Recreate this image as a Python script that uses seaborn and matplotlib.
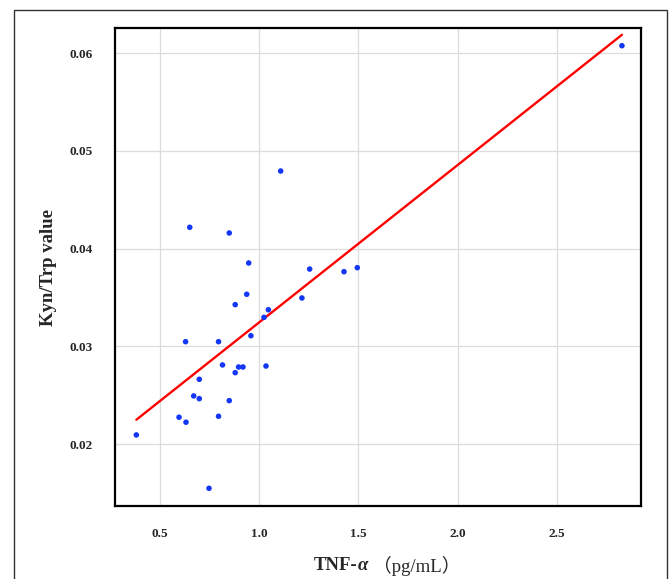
import numpy as np
import pandas as pd
import matplotlib
matplotlib.use("Agg")
import matplotlib.pyplot as plt
import seaborn as sns
from matplotlib.patches import Rectangle

tnf = [1.108, 0.650, 0.849, 0.947, 1.254, 1.427, 1.494, 0.937, 1.215, 0.879,
       1.046, 1.024, 0.958, 0.629, 0.795, 0.815, 0.896, 0.918, 1.034, 0.879,
       0.698, 0.670, 0.698, 0.849, 0.596, 0.795, 0.631, 0.381, 0.747, 2.827]
kyn_trp = [0.04793, 0.04217, 0.04159, 0.03852, 0.03790, 0.03763, 0.03804, 0.03532, 0.03494, 0.03426,
           0.03374, 0.03296, 0.03108, 0.03047, 0.03047, 0.02809, 0.02788, 0.02788, 0.02798, 0.02730,
           0.02662, 0.02492, 0.02464, 0.02444, 0.02274, 0.02284, 0.02223, 0.02093, 0.01547, 0.06075]
x_ticks = [0.5, 1.0, 1.5, 2.0, 2.5]
y_ticks = [0.02, 0.03, 0.04, 0.05, 0.06]

df = pd.DataFrame({"tnf": tnf, "kyn": kyn_trp})

sns.set_style("white")
plt.rcParams['font.family'] = ['Liberation Serif', 'Noto Sans CJK SC', 'DejaVu Sans']

fig = plt.figure(figsize=(6.7, 5.79), dpi=100)
ax = fig.add_axes([0.1721, 0.1261, 0.7846, 0.825])

fig.patches.append(Rectangle((14 / 670, -0.05), (667 - 14) / 670, 1 - 10 / 579 + 0.05,
                             transform=fig.transFigure, fill=False,
                             edgecolor="#333333", linewidth=1.0, zorder=0))

sns.regplot(data=df, x="tnf", y="kyn", ax=ax, ci=None,
            scatter_kws=dict(s=16, color="#1437f5", edgecolor="none", alpha=1, zorder=3),
            line_kws=dict(color="#ff0000", linewidth=1.7, zorder=2))

ax.set_xlim(0.275, 2.923)
ax.set_ylim(0.01366, 0.06253)
ax.set_xticks(x_ticks)
ax.set_yticks(y_ticks)
ax.set_xticklabels([f"{v:.1f}" for v in x_ticks], fontweight="bold", fontsize=9.5)
ax.set_yticklabels([f"{v:.2f}" for v in y_ticks], fontweight="bold", fontsize=9.5)
ax.grid(True, color="#dcdcdc", linewidth=0.9)
ax.set_axisbelow(True)
for s in ax.spines.values():
    s.set_visible(True)
    s.set_color("black")
    s.set_linewidth(1.6)
ax.tick_params(axis="both", direction="out", length=5, width=1.0, color="black", pad=11)

ax.set_xlabel("")
ax.set_ylabel("Kyn/Trp value", fontsize=13.5, fontweight="bold", labelpad=9)

xc = 0.5 * (0.1721 + 0.9567) - 0.031
yc = 1 - 566 / 579
fig.text(xc, yc, "TNF-", fontsize=13.5, fontweight="bold", ha="right", va="center")
fig.text(xc, yc, "α", fontsize=13.5, fontweight="bold", fontstyle="italic", ha="left", va="center")
fig.text(xc + 0.023, yc, "（pg/mL）", fontsize=13.5, ha="left", va="center")

fig.savefig("out.png", dpi=100)
